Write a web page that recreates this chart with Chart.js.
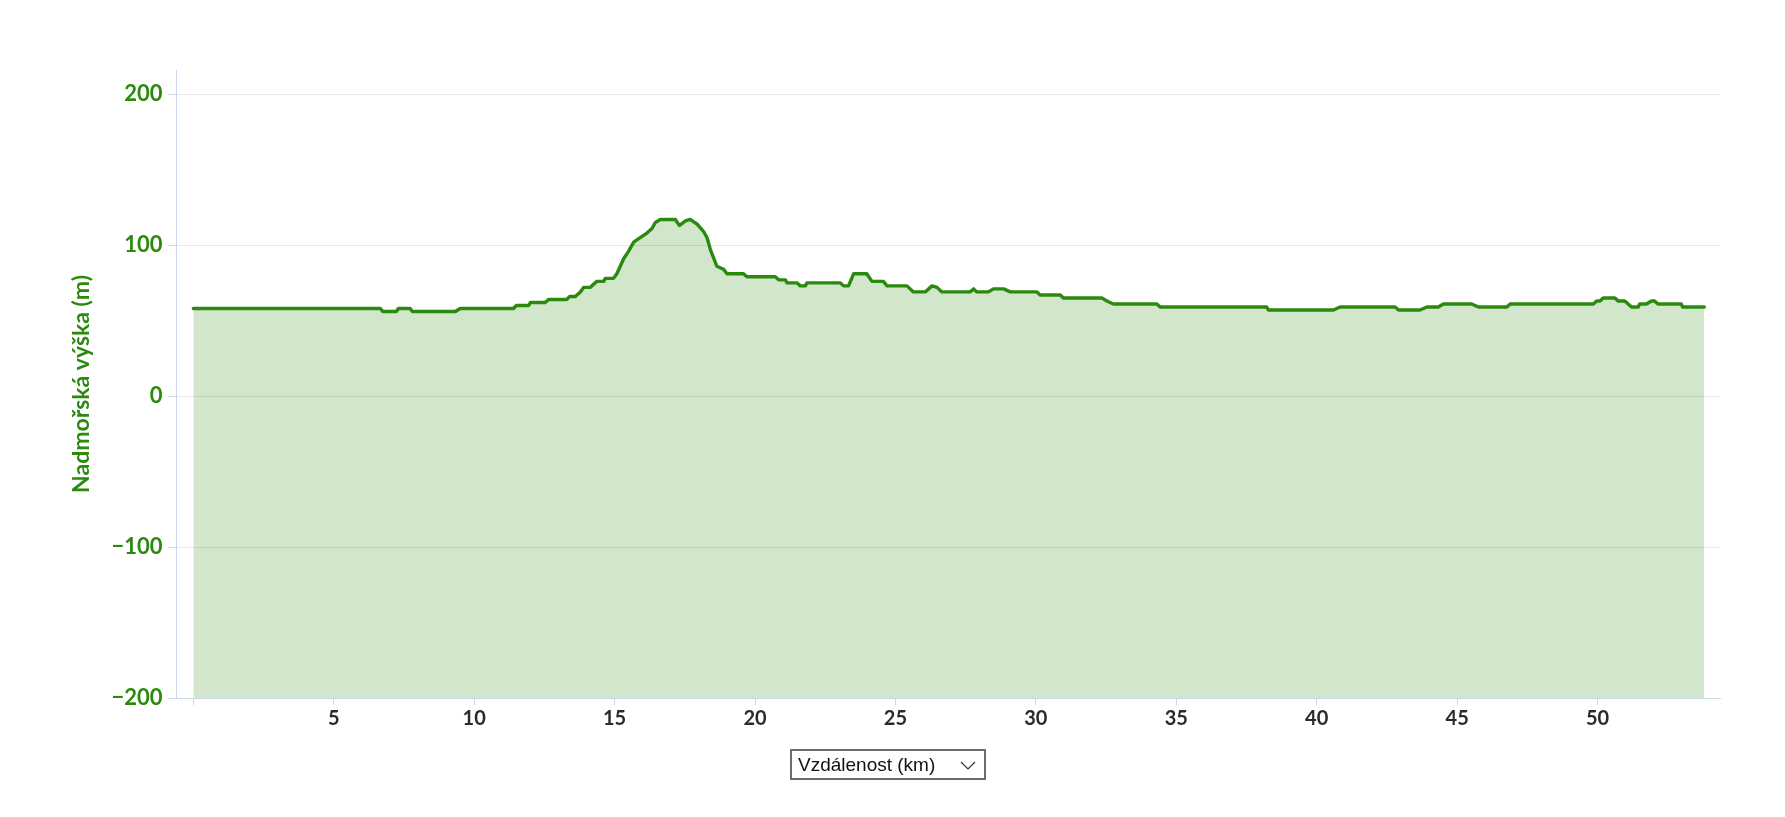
<!DOCTYPE html>
<html>
<head>
<meta charset="utf-8">
<script src="https://cdn.jsdelivr.net/npm/chart.js@4/dist/chart.umd.min.js"></script>
<style>
  body { margin: 0; background: #fff; }
  #wrap { position: relative; width: 1785px; height: 817px; }
  #profile { position: absolute; left: 0; top: 0; }
  #xsel {
    position: absolute; left: 790px; top: 749px; width: 192px; height: 27px;
    border: 2px solid #6b6b6b; box-sizing: content-box;
    font-family: "Liberation Sans", Arial, sans-serif; font-size: 19px; color: #111;
    line-height: 27px; padding-left: 0;
  }
  #xsel span { position: absolute; left: 6px; top: 0; }
  #xsel svg { position: absolute; left: 168px; top: 10px; }
</style>
</head>
<body>
<div id="wrap">
  <canvas id="profile" width="1785" height="817"></canvas>
  <div id="xsel"><span>Vzdálenost (km)</span><svg width="16" height="9" viewBox="0 0 16 9"><polyline points="1,1 8,8 15,1" fill="none" stroke="#333" stroke-width="1.2"/></svg></div>
</div>
<script>
const GREEN = '#2b8a0e';

// distance along the route (km)
const km = [
    0, 6.66, 6.75, 7.23, 7.3, 7.72, 7.8, 9.33, 9.5, 11.4,
    11.5, 11.94, 12.0, 12.53, 12.65, 13.3, 13.4, 13.6, 13.78, 13.9,
    14.13, 14.25, 14.37, 14.61, 14.67, 14.96, 15.08, 15.32, 15.5, 15.68,
    15.91, 16.15, 16.33, 16.45, 16.63, 17.16, 17.31, 17.52, 17.69, 17.93,
    18.17, 18.29, 18.41, 18.64, 18.88, 19.0, 19.59, 19.71, 20.72, 20.84,
    21.08, 21.14, 21.49, 21.61, 21.79, 21.85, 23.04, 23.15, 23.33, 23.51,
    23.98, 24.16, 24.57, 24.7, 25.41, 25.64, 26.06, 26.3, 26.48, 26.65,
    27.66, 27.78, 27.9, 28.31, 28.49, 28.85, 29.09, 30.04, 30.15, 30.87,
    30.98, 32.35, 32.53, 32.76, 34.31, 34.42, 38.22, 38.28, 40.6, 40.83,
    42.79, 42.91, 43.68, 43.92, 44.33, 44.51, 45.52, 45.76, 46.77, 46.89,
    49.85, 49.97, 50.09, 50.2, 50.62, 50.73, 50.97, 51.09, 51.21, 51.45,
    51.5, 51.74, 51.92, 52.03, 52.15, 52.98, 53.03, 53.8
];

// elevation (m)
const elevation = [
    58, 58, 56, 56, 58, 58, 56, 56, 58, 58,
    60, 60, 62, 62, 64, 64, 66, 66, 69, 72,
    72, 74, 76, 76, 78, 78, 81, 91, 96, 102,
    105, 108, 111, 115, 117, 117, 113, 116, 117, 114,
    109, 105, 97, 86, 84, 81, 81, 79, 79, 77,
    77, 75, 75, 73, 73, 75, 75, 73, 73, 81,
    81, 76, 76, 73, 73, 69, 69, 73, 72, 69,
    69, 71, 69, 69, 71, 71, 69, 69, 67, 67,
    65, 65, 63, 61, 61, 59, 59, 57, 57, 59,
    59, 57, 57, 59, 59, 61, 61, 59, 59, 61,
    61, 63, 63, 65, 65, 63, 63, 61, 59, 59,
    61, 61, 63, 63, 61, 61, 59, 59
];

const xTicks = [0, 5, 10, 15, 20, 25, 30, 35, 40, 45, 50];
const yTicks = [-200, -100, 0, 100, 200];

const points = km.map(function (k, i) { return { x: k, y: elevation[i] }; });

const ctx = document.getElementById('profile').getContext('2d');

new Chart(ctx, {
    type: 'line',
    data: {
        datasets: [{
            data: points,
            borderColor: GREEN,
            backgroundColor: 'rgba(43,137,14,0.21)',
            borderWidth: 3.4,
            borderJoinStyle: 'round',
            borderCapStyle: 'round',
            fill: 'start',
            pointRadius: 0,
            tension: 0
        }]
    },
    options: {
        responsive: false,
        animation: false,
        devicePixelRatio: 1,
        layout: { padding: { top: 70, right: 65, bottom: 0, left: 0 } },
        plugins: { legend: { display: false }, tooltip: { enabled: false } },
        scales: {
            x: {
                type: 'linear',
                min: -0.6,
                max: 54.36,
                afterBuildTicks: function (s) { s.ticks = xTicks.map(function (v) { return { value: v }; }); },
                afterFit: function (s) { s.height = 119; },
                grid: { drawOnChartArea: false, tickLength: 7, tickColor: '#ccd6eb' },
                border: { color: '#ccd6eb', width: 1 },
                ticks: {
                    autoSkip: false, maxRotation: 0, padding: 2, color: '#2b2b2b',
                    font: { family: 'Lato', size: 20, weight: 'bold' },
                    callback: function (v) { return v === 0 ? '' : String(v); }
                },
            },
            y: {
                min: -200,
                max: 216,
                afterBuildTicks: function (s) { s.ticks = yTicks.map(function (v) { return { value: v }; }); },
                afterFit: function (s) { s.width = 176.5; },
                grid: { color: '#e6e6e6', tickColor: '#ccd6eb', tickLength: 8 },
                border: { color: '#ccd6eb', width: 1 },
                ticks: {
                    padding: 6, color: GREEN,
                    font: { family: 'Lato', size: 22, weight: 'bold' },
                    callback: function (v) { return v < 0 ? '\u2212' + Math.abs(v) : String(v); }
                },
                title: {
                    display: true, text: 'Nadmořská výška (m)', color: GREEN,
                    font: { family: 'Lato', size: 23, weight: 'bold' },
                    padding: { top: 68, bottom: 0 }
                }
            }
        }
    }
});
</script>
</body>
</html>
